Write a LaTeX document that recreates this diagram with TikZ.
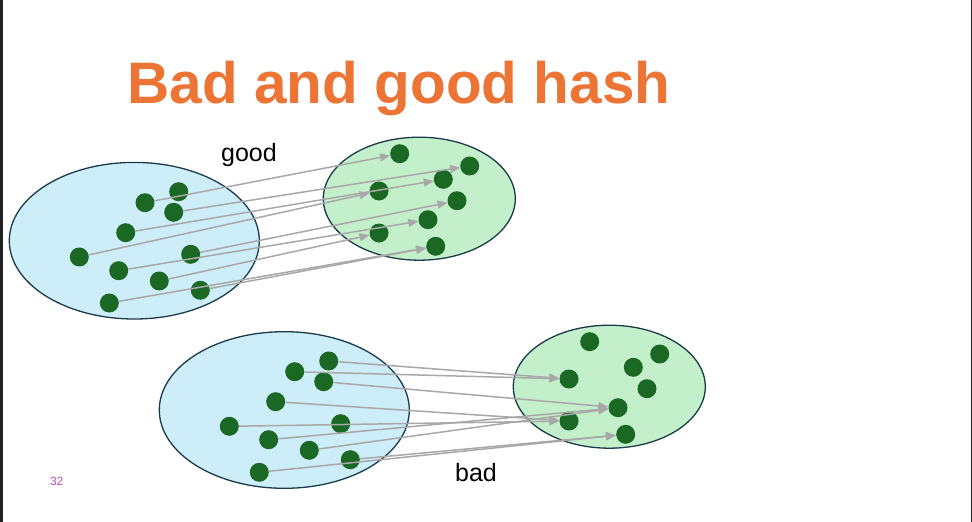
\documentclass[tikz,border=0pt]{standalone}
\usepackage{fontspec}
\setmainfont{Liberation Sans}
\usetikzlibrary{arrows.meta}
\usetikzlibrary{shapes.geometric}

\definecolor{titleorange}{RGB}{236,116,52}
\definecolor{keyblue}{RGB}{205,238,249}
\definecolor{slotgreen}{RGB}{195,240,202}
\definecolor{setedge}{RGB}{27,58,75}
\definecolor{dotgreen}{RGB}{26,104,35}
\definecolor{arrowgray}{RGB}{168,168,168}
\definecolor{pagepurple}{RGB}{184,80,192}
\definecolor{framegray}{RGB}{34,34,34}

\begin{document}
\begin{tikzpicture}[x=1pt,y=-1pt,>/.tip={Triangle[length=10pt,width=8pt,fill=arrowgray]},
	keyset/.style={draw=setedge,line width=1.3pt,fill=keyblue,shape=ellipse,minimum width=250pt,minimum height=156.6pt,inner sep=0pt},
	slotset/.style={draw=setedge,line width=1.3pt,fill=slotgreen,shape=ellipse,minimum width=192pt,minimum height=123pt,inner sep=0pt},
	hashdot/.style={shape=circle,fill=dotgreen,minimum size=19pt,inner sep=0pt},
	hashline/.style={draw=arrowgray,line width=1.5pt}]
	\useasboundingbox (0,0) rectangle (972,522);
	\fill[white] (0,0) rectangle (972,522);
	\fill[framegray] (0,0) rectangle (3,522);
	\fill[framegray] (970.6,0) rectangle (971.6,522);
	\draw (399,103.5) node (title) [anchor=base,text=titleorange,font=\fontsize{58.5}{58.5}\selectfont\bfseries] {Bad and good hash};
	\draw (249,161) node (good) [anchor=base,font=\fontsize{25}{25}\selectfont] {good};
	\draw (476,481.7) node (bad) [anchor=base,font=\fontsize{25}{25}\selectfont] {bad};
	\draw (56.7,485) node (pagenum) [anchor=base,text=pagepurple,font=\fontsize{12}{12}\selectfont] {32};
	\draw (134.3,240.7) node (goodkeys) [keyset] {};
	\draw (419.3,198.7) node (goodslots) [slotset] {};
	\draw (284.3,410) node (badkeys) [keyset] {};
	\draw (609.3,386.7) node (badslots) [slotset] {};
	\draw (145,202.7) node (ga) [hashdot] {};
	\draw (178.7,191.7) node (gb) [hashdot] {};
	\draw (173.7,212.3) node (gc) [hashdot] {};
	\draw (125.7,232.7) node (gd) [hashdot] {};
	\draw (79.3,257) node (ge) [hashdot] {};
	\draw (190.7,254.3) node (gf) [hashdot] {};
	\draw (118.7,270.7) node (gg) [hashdot] {};
	\draw (159.3,281) node (gh) [hashdot] {};
	\draw (200.3,290.3) node (gi) [hashdot] {};
	\draw (109.3,303) node (gj) [hashdot] {};
	\draw (399.7,153.7) node (gA) [hashdot] {};
	\draw (469.7,166) node (gB) [hashdot] {};
	\draw (443.3,179.3) node (gC) [hashdot] {};
	\draw (379,191) node (gD) [hashdot] {};
	\draw (457,200.7) node (gE) [hashdot] {};
	\draw (428,219.7) node (gF) [hashdot] {};
	\draw (379,233) node (gG) [hashdot] {};
	\draw (435.7,246.3) node (gH) [hashdot] {};
	\draw (328.7,361) node (ba) [hashdot] {};
	\draw (294.7,371.7) node (bb) [hashdot] {};
	\draw (323.7,381.7) node (bc) [hashdot] {};
	\draw (275.7,401.7) node (bd) [hashdot] {};
	\draw (229.3,426.3) node (be) [hashdot] {};
	\draw (340.7,423.7) node (bf) [hashdot] {};
	\draw (268.7,439.7) node (bg) [hashdot] {};
	\draw (309.3,450.3) node (bh) [hashdot] {};
	\draw (350.3,459.7) node (bi) [hashdot] {};
	\draw (259.3,472.3) node (bj) [hashdot] {};
	\draw (589.7,341.7) node (bA) [hashdot] {};
	\draw (659.7,354) node (bB) [hashdot] {};
	\draw (633.3,367.3) node (bC) [hashdot] {};
	\draw (569,379) node (bD) [hashdot] {};
	\draw (647,388.7) node (bE) [hashdot] {};
	\draw (618,407.7) node (bF) [hashdot] {};
	\draw (569,421) node (bG) [hashdot] {};
	\draw (625.7,434.3) node (bH) [hashdot] {};
	\path[->,hashline] (ga) edge (gA);
	\path[->,hashline] (gc) edge (gB);
	\path[->,hashline] (gd) edge (gC);
	\path[->,hashline] (ge) edge (gD);
	\path[->,hashline] (gf) edge (gE);
	\path[->,hashline] (gg) edge (gF);
	\path[->,hashline] (gh) edge (gG);
	\path[->,hashline] (gi) edge (gH);
	\path[->,hashline] (gj) edge (gH);
	\path[->,hashline] (ba) edge (bD);
	\path[->,hashline] (bb) edge (bD);
	\path[->,hashline] (bc) edge (bF);
	\path[->,hashline] (bg) edge (bF);
	\path[->,hashline] (bh) edge (bF);
	\path[->,hashline] (bd) edge (bG);
	\path[->,hashline] (be) edge (bG);
	\path[->,hashline] (bi) edge (bH);
	\path[->,hashline] (bj) edge (bH);
\end{tikzpicture}
\end{document}
